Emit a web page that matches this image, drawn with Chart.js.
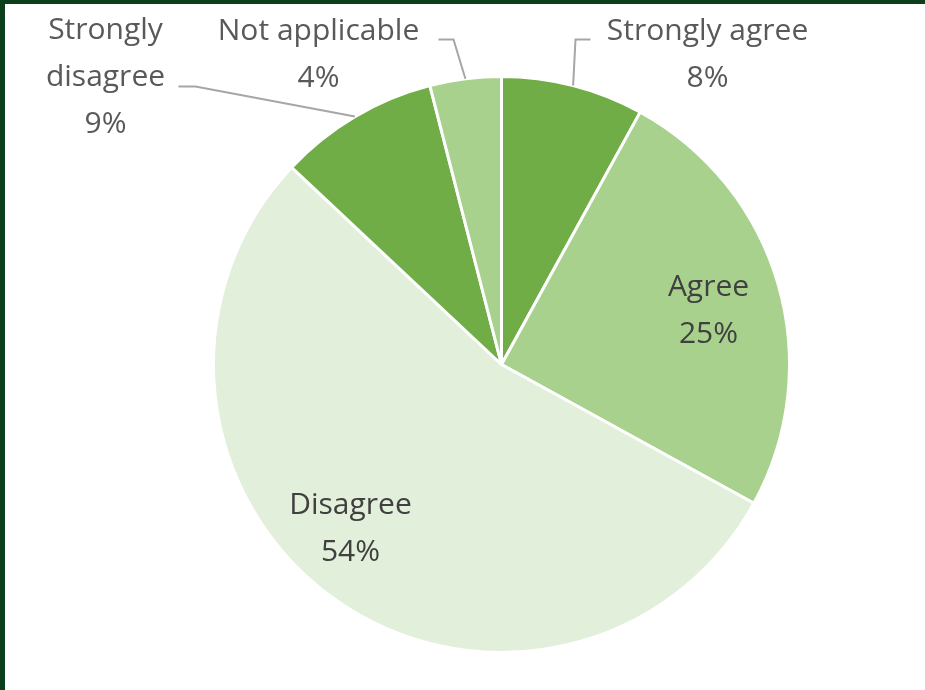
<!DOCTYPE html>
<html lang="en">
<head>
    <meta charset="UTF-8">
    <title>Survey responses</title>
    <script src="https://cdn.jsdelivr.net/npm/chart.js@4.4.0/dist/chart.umd.min.js"></script>
    <style>
        body { margin: 0; background: #fff; }
        .wrap { position: relative; width: 925px; height: 690px; }
        .wrap canvas { position: absolute; left: 0; top: 0; }
        .frame { position: absolute; left: 0; top: 0; width: 920px; height: 686px;
                 border-left: 5px solid #0b3f1c; border-top: 4px solid #0b3f1c; pointer-events: none; }
    </style>
    <script>
    // chart data
    const categories = ['Strongly agree', 'Agree', 'Disagree', 'Strongly disagree', 'Not applicable'];
    const shares = [8, 25, 54, 9, 4];
    const sliceColors = ['#70ad47', '#a9d18e', '#e2efda', '#70ad47', '#a9d18e'];

    // label text lines per slice
    const labelLines = [
        ['Strongly agree', '8%'],
        ['Agree', '25%'],
        ['Disagree', '54%'],
        ['Strongly', 'disagree', '9%'],
        ['Not applicable', '4%']
    ];
    </script>
</head>
<body>
<div class="wrap">
    <canvas id="canvas" width="925" height="690"></canvas>
    <div class="frame"></div>
</div>
<script>
    // where the labels go, relative to the pie centre (px), and leader line elbows
    var labelSpots = [
        {x: 206, y: -310, inside: false, elbow: [74, -325], end: [89, -325]},
        {x: 207, y: -54, inside: true},
        {x: -151, y: 164, inside: true},
        {x: -396, y: -287, inside: false, elbow: [-306, -278], end: [-323, -278]},
        {x: -183, y: -310, inside: false, elbow: [-48, -325], end: [-63, -325]}
    ];

    var pieLabels = {
        id: 'pieLabels',
        afterDatasetsDraw: function(chart) {
            var ctx = chart.ctx;
            var arcs = chart.getDatasetMeta(0).data;
            var cx = arcs[0].x, cy = arcs[0].y, r = arcs[0].outerRadius;
            ctx.save();
            ctx.font = '30px "Open Sans", sans-serif';
            ctx.textAlign = 'center';
            ctx.textBaseline = 'middle';
            for (var i = 0; i < arcs.length; i++) {
                var spot = labelSpots[i];
                var lines = labelLines[i];
                if (!spot.inside) {
                    var mid = (arcs[i].startAngle + arcs[i].endAngle) / 2;
                    ctx.strokeStyle = '#a6a6a6';
                    ctx.lineWidth = 2;
                    ctx.beginPath();
                    ctx.moveTo(cx + Math.cos(mid) * r, cy + Math.sin(mid) * r);
                    ctx.lineTo(cx + spot.elbow[0], cy + spot.elbow[1]);
                    ctx.lineTo(cx + spot.end[0], cy + spot.end[1]);
                    ctx.stroke();
                }
                ctx.fillStyle = spot.inside ? '#404040' : '#595959';
                var top = cy + spot.y - (lines.length - 1) * 47 / 2;
                for (var j = 0; j < lines.length; j++) {
                    ctx.fillText(lines[j], cx + spot.x, top + j * 47);
                }
            }
            ctx.restore();
        }
    };

    var myChart = new Chart(document.getElementById('canvas').getContext('2d'), {
        type: 'pie',
        data: {
            labels: categories,
            datasets: [{
                data: shares,
                backgroundColor: sliceColors,
                borderColor: '#ffffff',
                borderWidth: 3
            }]
        },
        options: {
            responsive: false,
            animation: false,
            layout: {
                padding: {left: 212, right: 134, top: 75, bottom: 36}
            },
            plugins: {
                legend: {display: false},
                tooltip: {enabled: false}
            }
        },
        plugins: [pieLabels]
    });
</script>
</body>
</html>
